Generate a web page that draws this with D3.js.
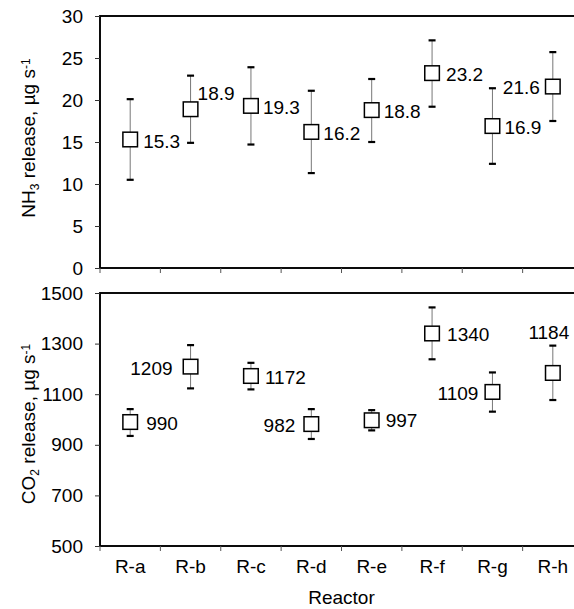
<!DOCTYPE html>
<html><head><meta charset="utf-8">
<script src="https://cdn.jsdelivr.net/npm/d3@7"></script>
<style>body{margin:0;background:#fff}svg{display:block}text{font-family:"Liberation Sans",Arial,sans-serif;fill:#000}</style>
</head><body><svg id="c" width="574" height="609"></svg>
<script>
const categories = ["R-a","R-b","R-c","R-d","R-e","R-f","R-g","R-h"];
const nh3Values = [15.3,18.9,19.3,16.2,18.8,23.2,16.9,21.6];
const nh3Upper = [20.1,22.9,23.9,21.1,22.5,27.1,21.4,25.7];
const nh3Lower = [10.5,14.9,14.7,11.3,15.0,19.2,12.4,17.5];
const co2Values = [990,1209,1172,982,997,1340,1109,1184];
const co2Upper = [1041,1294,1224,1041,1037,1443,1186,1292];
const co2Lower = [935,1123,1119,923,957,1238,1031,1077];
const nh3Ticks = [0,5,10,15,20,25,30];
const co2Ticks = [500,700,900,1100,1300,1500];

// label placement (layout, not data)
const nh3LabelPos = [
  {anchor:"start",dx:13,dy:2},{anchor:"start",dx:7,dy:-16},{anchor:"start",dx:12,dy:1},
  {anchor:"start",dx:12,dy:1},{anchor:"start",dx:12,dy:1},{anchor:"start",dx:14,dy:1},
  {anchor:"start",dx:12,dy:1},{anchor:"end",dx:-13,dy:1}];
const co2LabelPos = [
  {anchor:"start",dx:16,dy:1},{anchor:"end",dx:-18,dy:2},{anchor:"start",dx:14,dy:1},
  {anchor:"end",dx:-16,dy:1},{anchor:"start",dx:14,dy:0},{anchor:"start",dx:15,dy:1},
  {anchor:"end",dx:-14,dy:1},{anchor:"middle",dx:-4,dy:-41}];

const svg = d3.select("#c");
const FS = 19;
const x = d3.scaleBand().domain(categories).range([100,583]).padding(0);

function panel(top, bottom, domain, ticks, vals, up, lo, labelPos, fmt, showX){
  const y = d3.scaleLinear().domain(domain).range([bottom, top]);
  const g = svg.append("g");
  g.append("rect").attr("x",100).attr("y",top).attr("width",483).attr("height",bottom-top)
   .attr("fill","none").attr("stroke","#000").attr("stroke-width",1.9);
  const ya = g.append("g").attr("transform","translate(100,0)")
    .call(d3.axisLeft(y).tickValues(ticks).tickSize(5).tickPadding(12).tickFormat(d3.format("d")));
  ya.select(".domain").remove();
  ya.selectAll(".tick line").attr("stroke","#333");
  ya.selectAll("text").style("font-size",FS+"px").style("font-family","Liberation Sans, Arial");
  const xa = g.append("g").attr("transform",`translate(0,${bottom})`)
    .call(d3.axisBottom(x).tickSize(0).tickPadding(14));
  xa.select(".domain").remove();
  xa.selectAll("text").style("font-size",FS+"px").style("font-family","Liberation Sans, Arial")
    .style("display", showX ? null : "none");
  const bounds = categories.map(c=>x(c)).concat([x(categories[categories.length-1])+x.bandwidth()]);
  g.selectAll(".bt").data(bounds).enter().append("line")
    .attr("x1",d=>d).attr("x2",d=>d).attr("y1",bottom).attr("y2",bottom+5)
    .attr("stroke","#555").attr("stroke-width",1);
  const cx = c=>x(c)+x.bandwidth()/2;
  const pts = g.selectAll(".p").data(categories).enter().append("g");
  pts.append("line").attr("x1",cx).attr("x2",cx).attr("y1",(d,i)=>y(up[i])).attr("y2",(d,i)=>y(lo[i]))
    .attr("stroke","#777").attr("stroke-width",1);
  pts.append("line").attr("x1",d=>cx(d)-3.5).attr("x2",d=>cx(d)+3.5).attr("y1",(d,i)=>y(up[i])).attr("y2",(d,i)=>y(up[i]))
    .attr("stroke","#000").attr("stroke-width",2.2);
  pts.append("line").attr("x1",d=>cx(d)-3.5).attr("x2",d=>cx(d)+3.5).attr("y1",(d,i)=>y(lo[i])).attr("y2",(d,i)=>y(lo[i]))
    .attr("stroke","#000").attr("stroke-width",2.2);
  pts.append("rect").attr("x",d=>cx(d)-7.3).attr("y",(d,i)=>y(vals[i])-7.3).attr("width",14.6).attr("height",14.6)
    .attr("fill","#fff").attr("stroke","#000").attr("stroke-width",1.5);
  pts.append("text").attr("x",(d,i)=>cx(d)+labelPos[i].dx).attr("y",(d,i)=>y(vals[i])+labelPos[i].dy)
    .attr("dy","0.35em").attr("text-anchor",(d,i)=>labelPos[i].anchor)
    .style("font-size",FS+"px").text((d,i)=>fmt(vals[i]));
  return y;
}

panel(16, 268, [0,30], nh3Ticks, nh3Values, nh3Upper, nh3Lower, nh3LabelPos, d3.format(".1f"), false);
panel(293, 546, [500,1500], co2Ticks, co2Values, co2Upper, co2Lower, co2LabelPos, d3.format("d"), true);

function ylabel(cy, main, sub){
  const t = svg.append("text").attr("transform",`translate(35,${cy}) rotate(-90)`)
    .attr("text-anchor","middle").style("font-size",FS+"px");
  t.append("tspan").text(main);
  t.append("tspan").attr("baseline-shift","-30%").style("font-size","12px").text(sub);
  t.append("tspan").text(" release, µg s");
  t.append("tspan").attr("baseline-shift","40%").style("font-size","12px").text("-1");
}
ylabel(138,"NH","3");
ylabel(424,"CO","2");

svg.append("text").attr("x",341.5).attr("y",604).attr("text-anchor","middle")
  .style("font-size",FS+"px").text("Reactor");
</script></body></html>
